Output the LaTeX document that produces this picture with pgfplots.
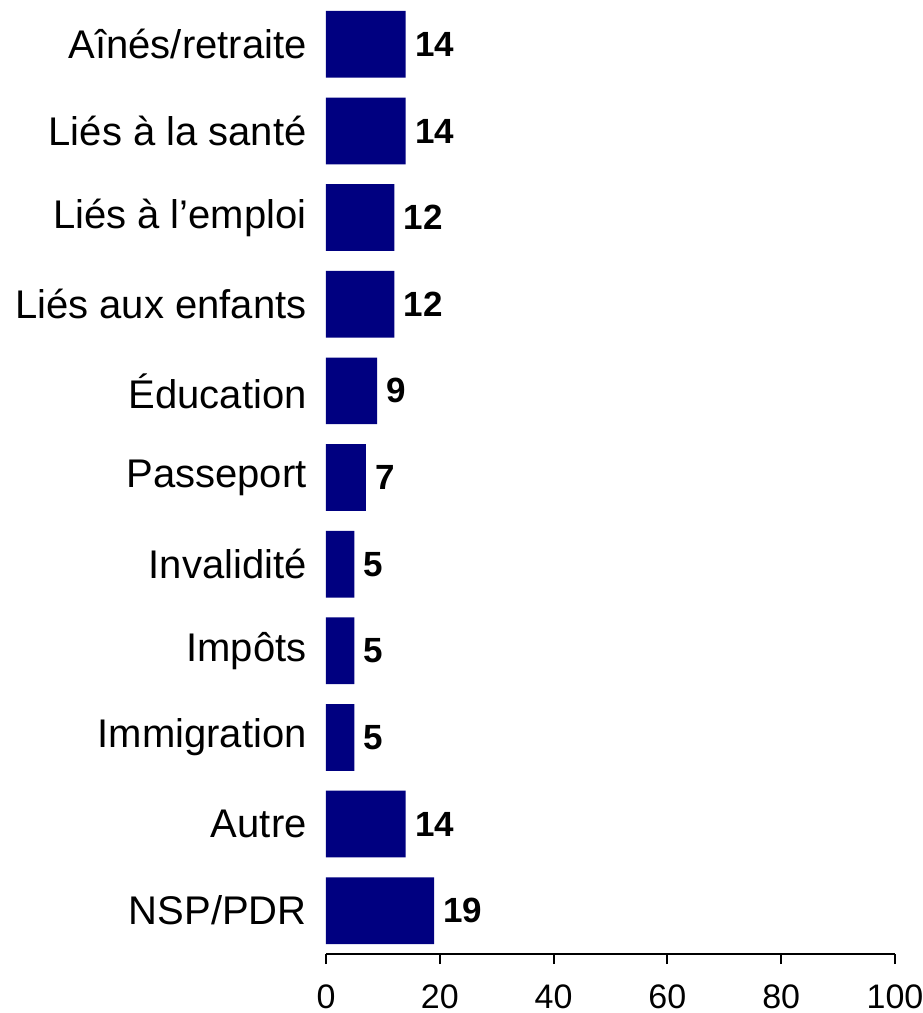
\documentclass[border=0pt]{standalone}
\usepackage{fontspec}
\setmainfont{Liberation Sans}
\usepackage{pgfplots}
\pgfplotsset{compat=1.18}
\definecolor{barnavy}{RGB}{0,0,128}
\begin{document}
\begin{tikzpicture}
\begin{axis}[
  name=ax,
  scale only axis,
  width=284.5pt, height=476.5pt,
  xbar, bar width=0.77,
  xmin=0, xmax=100, ymin=-0.5, ymax=10.5, y dir=reverse,
  axis x line*=bottom, axis y line*=left,
  y axis line style={draw=none},
  x axis line style={-, line width=1pt, black},
  xtick={0,20,40,60,80,100},
  xtick align=outside,
  major tick length=5pt,
  xtick style={line width=1pt, black},
  ytick={0,1,2,3,4,5,6,7,8,9,10},
  ytick style={draw=none},
  yticklabels={Aînés/retraite, Liés à la santé, Liés à l’emploi, Liés aux enfants, Éducation, Passeport, Invalidité, Impôts, Immigration, Autre, NSP/PDR},
  yticklabel style={font=\fontsize{20}{24}\selectfont, anchor=east, inner sep=0pt, xshift=-4.5pt},
  xticklabel style={font=\fontsize{17}{21}\selectfont, inner sep=0pt, yshift=-10pt},
  /pgf/number format/assume math mode=true,
  nodes near coords,
  every node near coord/.append style={font=\bfseries\fontsize{17.5}{20}\selectfont, inner sep=0pt, anchor=west, xshift=4.5pt, black},
]
\addplot[fill=barnavy, draw=none] coordinates {(14,0) (14,1) (12,2) (12,3) (9,4) (7,5) (5,6) (5,7) (5,8) (14,9) (19,10)};
\end{axis}
\pgfresetboundingbox
\path ([xshift=-163pt,yshift=-29.5pt]ax.south west) rectangle ([xshift=13.5pt,yshift=0.5pt]ax.north east);
\end{tikzpicture}
\end{document}
